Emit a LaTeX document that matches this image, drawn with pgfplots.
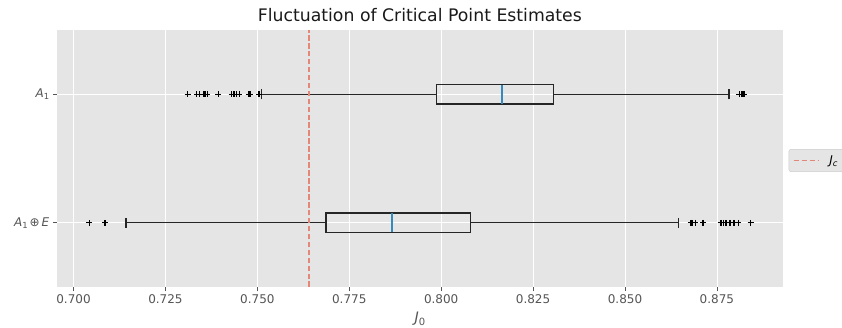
\documentclass[border=0pt]{standalone}
\usepackage{fontspec}
\setmainfont{DejaVu Sans}
\usepackage{pgfplots}
\usepgfplotslibrary{statistics}
\pgfplotsset{compat=1.18}
\definecolor{bg}{HTML}{E5E5E5}
\definecolor{tickgray}{HTML}{555555}
\definecolor{jc}{HTML}{E38878}
\definecolor{med}{HTML}{348ABD}
\definecolor{legedge}{HTML}{CCCCCC}
\newcommand{\subA}[1]{\raisebox{-2pt}{\fontsize{8.4pt}{9pt}\selectfont #1}}
\newcommand{\subB}[1]{\raisebox{-2.4pt}{\fontsize{10pt}{11pt}\selectfont #1}}
\pgfplotsset{jclegend/.style={legend image code/.code={\draw[##1] (0pt,0pt) -- (24pt,0pt);}}}
\begin{document}
\begin{tikzpicture}
\useasboundingbox (-57pt,-40pt) rectangle (785pt,287pt);
\begin{axis}[
  at={(0pt,0pt)}, anchor=south west,
  scale only axis, width=725.7pt, height=257pt,
  xmin=0.6955, xmax=0.8929, ymin=0.5, ymax=2.5,
  axis background/.style={fill=bg},
  axis line style={draw=none},
  grid=major, major grid style={white, line width=0.8pt},
  tick align=outside, xtick pos=bottom, ytick pos=left,
  major tick length=4.2pt,
  every tick/.style={tickgray, line width=0.8pt},
  xtick={0.700,0.725,0.750,0.775,0.800,0.825,0.850,0.875},
  scaled x ticks=false,
  xticklabel style={/pgf/number format/.cd, fixed, fixed zerofill, precision=3, assume math mode=true},
  ytick={1,2},
  yticklabels={{\textit{A}\subA{1}\,⊕\,\textit{E}},{\textit{A}\subA{1}}},
  tick label style={font=\fontsize{12pt}{14pt}\selectfont, text=tickgray},
  xlabel={\textit{J}\subB{0}},
  xlabel style={font=\fontsize{14.4pt}{17pt}\selectfont, text=tickgray, yshift=-1.5pt},
  title={Fluctuation of Critical Point Estimates},
  title style={font=\fontsize{17.28pt}{20pt}\selectfont, at={(0.5,1)}, anchor=base, yshift=2.5pt, text=black!90},
  legend style={at={(1,0.5)}, anchor=west, xshift=6pt, yshift=-2pt, fill=bg, draw=legedge, rounded corners=2pt,
    font=\fontsize{12pt}{14pt}\selectfont, inner xsep=4pt, inner ysep=4pt, cells={anchor=west},
    /tikz/every odd column/.append style={column sep=9pt}},
  boxplot/every box/.style={draw=black!85, line width=1.4pt},
  boxplot/every whisker/.style={draw=black!85, line width=1.4pt},
  boxplot/every median/.style={draw=med, line width=1.4pt},
]
\addplot[forget plot, black, line width=1.4pt, mark=+, mark size=3pt,
  boxplot prepared={draw position=2, lower whisker=0.7512, lower quartile=0.7988, median=0.8165,
    upper quartile=0.8305, upper whisker=0.8783, box extend=0.15, whisker extend=0.08, draw direction=x}]
  table[row sep=\\, y index=0] {v\\ 0.7310\\ 0.7335\\ 0.7342\\ 0.7353\\ 0.7358\\ 0.7364\\ 0.7394\\ 0.7430\\ 0.7437\\ 0.7444\\ 0.7451\\ 0.7476\\ 0.7480\\ 0.7505\\ 0.8811\\ 0.8818\\ 0.8824\\};
\addplot[forget plot, black, line width=1.4pt, mark=+, mark size=3pt,
  boxplot prepared={draw position=1, lower whisker=0.7143, lower quartile=0.7687, median=0.7866,
    upper quartile=0.8079, upper whisker=0.8645, box extend=0.15, whisker extend=0.08, draw direction=x}]
  table[row sep=\\, y index=0] {v\\ 0.7043\\ 0.7086\\ 0.8679\\ 0.8684\\ 0.8691\\ 0.8712\\ 0.8761\\ 0.8768\\ 0.8775\\ 0.8786\\ 0.8797\\ 0.8808\\ 0.8842\\};
\addplot[jc, line width=1.5pt, dash pattern=on 5.55pt off 2.4pt, jclegend]
  coordinates {(0.764,0.5) (0.764,2.5)};
\addlegendentry{\textit{J}\subA{\textit{c}}}
\end{axis}
\end{tikzpicture}
\end{document}
